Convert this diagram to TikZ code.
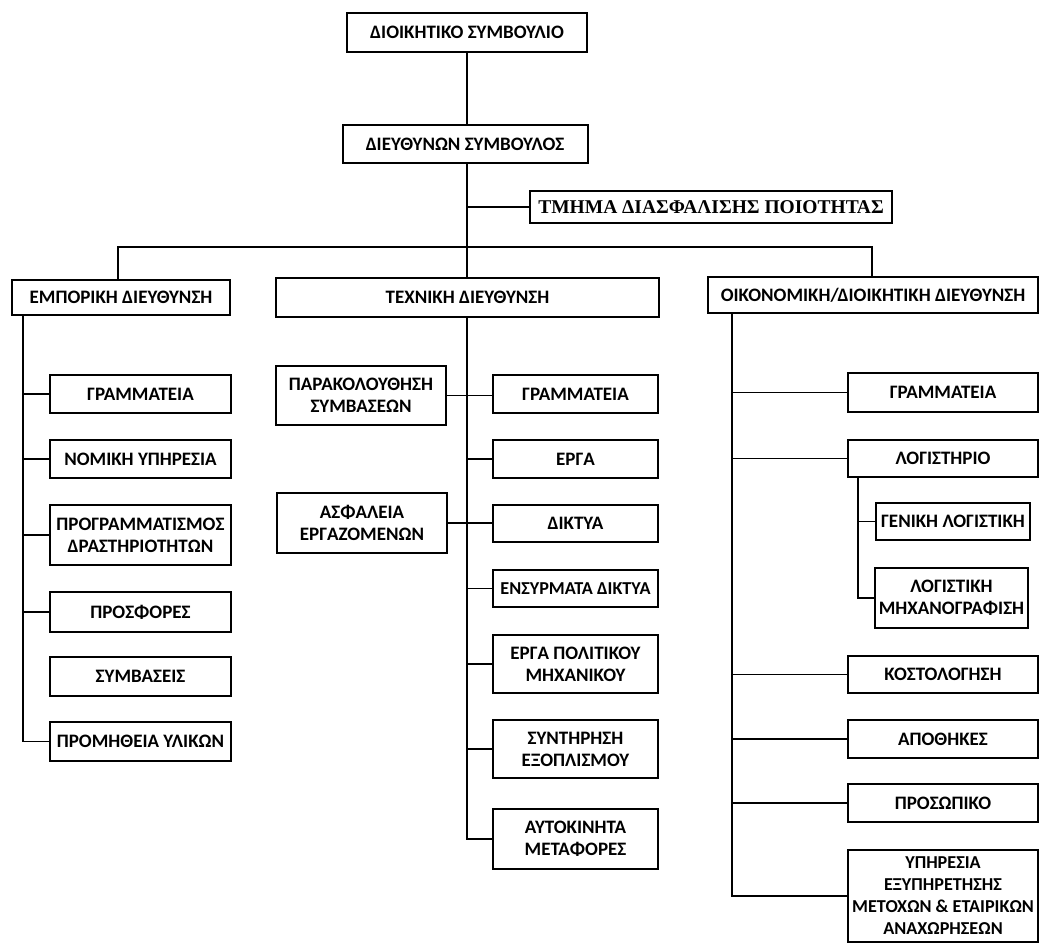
\documentclass[tikz,border=0pt]{standalone}
\usepackage{fontspec}
\setmainfont{Carlito}
\newfontfamily\qafont{Liberation Serif}
\begin{document}
\begin{tikzpicture}[x=1pt,y=-1pt,
  unit/.style={draw,line width=2pt,inner sep=1pt,align=center,
    font=\fontsize{19}{22}\selectfont\bfseries},
  tight/.style={font=\fontsize{18.2}{22}\selectfont\bfseries},
  link/.style={line width=1.9pt}]
\useasboundingbox[fill=white] (0,0) rectangle (1040,945);

% top management
\node[unit,minimum width=240,minimum height=39] (board) at (467,32.5) {ΔΙΟΙΚΗΤΙΚΟ ΣΥΜΒΟΥΛΙΟ};
\node[unit,minimum width=245,minimum height=38] (ceo) at (465,144) {ΔΙΕΥΘΥΝΩΝ ΣΥΜΒΟΥΛΟΣ};
\node[unit,minimum width=362,minimum height=32,font=\qafont\fontsize{19.5}{21}\selectfont\bfseries] (qa) at (711,207) {ΤΜΗΜΑ ΔΙΑΣΦΑΛΙΣΗΣ ΠΟΙΟΤΗΤΑΣ};

% directorates
\node[unit,minimum width=218,minimum height=35] (com) at (121,297.5) {ΕΜΠΟΡΙΚΗ ΔΙΕΥΘΥΝΣΗ};
\node[unit,minimum width=383,minimum height=39] (tech) at (467.5,297.5) {ΤΕΧΝΙΚΗ ΔΙΕΥΘΥΝΣΗ};
\node[unit,minimum width=330,minimum height=36] (fin) at (873,295) {ΟΙΚΟΝΟΜΙΚΗ/ΔΙΟΙΚΗΤΙΚΗ ΔΙΕΥΘΥΝΣΗ};

\coordinate (busL) at (118,247);
\coordinate (busR) at (872,247);
\coordinate (qaJ) at (467,207);

\draw[link] (board.south -| qaJ) -- (ceo.north -| qaJ);
\draw[link] (ceo.south -| qaJ) -- (tech.north -| qaJ);
\draw[link] (qaJ) -- (qa.west);
\draw[link] (com.north -| busL) -- (busL) -- (busR) -- (fin.north -| busR);

% commercial directorate
\begin{scope}[every node/.append style={minimum width=181}]
\node[unit,minimum height=38] (c1) at (140.5,394) {ΓΡΑΜΜΑΤΕΙΑ};
\node[unit,minimum height=38] (c2) at (140.5,459) {ΝΟΜΙΚΗ ΥΠΗΡΕΣΙΑ};
\node[unit,minimum height=60] (c3) at (140.5,535) {ΠΡΟΓΡΑΜΜΑΤΙΣΜΟΣ\\ΔΡΑΣΤΗΡΙΟΤΗΤΩΝ};
\node[unit,minimum height=40] (c4) at (140.5,612) {ΠΡΟΣΦΟΡΕΣ};
\node[unit,minimum height=39] (c5) at (140.5,676.5) {ΣΥΜΒΑΣΕΙΣ};
\node[unit,minimum height=39] (c6) at (140.5,741.5) {ΠΡΟΜΗΘΕΙΑ ΥΛΙΚΩΝ};
\end{scope}
\coordinate (comT) at (23,315);
\draw[link] (comT) -- (comT |- c6.west) -- (c6.west);
\foreach \n in {c1,c2,c3,c4}
  \draw[link] (comT |- \n.west) -- (\n.west);

% technical directorate
\node[unit,minimum width=170,minimum height=59] (tmon) at (361,395.5) {ΠΑΡΑΚΟΛΟΥΘΗΣΗ\\ΣΥΜΒΑΣΕΩΝ};
\node[unit,minimum width=170,minimum height=60] (tsaf) at (362,523) {ΑΣΦΑΛΕΙΑ\\ΕΡΓΑΖΟΜΕΝΩΝ};
\begin{scope}[every node/.append style={minimum width=165}]
\node[unit,minimum height=38] (t1) at (575.5,394) {ΓΡΑΜΜΑΤΕΙΑ};
\node[unit,minimum height=38] (t2) at (575.5,459) {ΕΡΓΑ};
\node[unit,minimum height=37] (t3) at (575.5,523.5) {ΔΙΚΤΥΑ};
\node[unit,tight,minimum height=37] (t4) at (575.5,588.5) {ΕΝΣΥΡΜΑΤΑ ΔΙΚΤΥΑ};
\node[unit,minimum height=58] (t5) at (575.5,664) {ΕΡΓΑ ΠΟΛΙΤΙΚΟΥ\\ΜΗΧΑΝΙΚΟΥ};
\node[unit,minimum height=58] (t6) at (575.5,749) {ΣΥΝΤΗΡΗΣΗ\\ΕΞΟΠΛΙΣΜΟΥ};
\node[unit,minimum height=60] (t7) at (575.5,839) {ΑΥΤΟΚΙΝΗΤΑ\\ΜΕΤΑΦΟΡΕΣ};
\end{scope}
\coordinate (techT) at (467,317);
\draw[link] (techT) -- (techT |- t7.west) -- (t7.west);
\foreach \n in {t2,t4,t5,t6}
  \draw[link] (techT |- \n.west) -- (\n.west);
\draw[link] (tmon.east) -- (tmon.east -| t1.west);
\draw[link] (tsaf.east) -- (tsaf.east -| t3.west);

% finance / administration directorate
\begin{scope}[every node/.append style={minimum width=190}]
\node[unit,minimum height=39] (f1) at (943,392.5) {ΓΡΑΜΜΑΤΕΙΑ};
\node[unit,minimum height=37] (f2) at (943,458.5) {ΛΟΓΙΣΤΗΡΙΟ};
\node[unit,minimum height=37] (f3) at (943,674.5) {ΚΟΣΤΟΛΟΓΗΣΗ};
\node[unit,minimum height=38] (f4) at (943,739) {ΑΠΟΘΗΚΕΣ};
\node[unit,minimum height=38] (f5) at (943,803) {ΠΡΟΣΩΠΙΚΟ};
\node[unit,tight,minimum height=92] (f6) at (943,896) {ΥΠΗΡΕΣΙΑ\\ΕΞΥΠΗΡΕΤΗΣΗΣ\\ΜΕΤΟΧΩΝ \& ΕΤΑΙΡΙΚΩΝ\\ΑΝΑΧΩΡΗΣΕΩΝ};
\end{scope}
\node[unit,minimum width=154,minimum height=37] (a1) at (953,521.5) {ΓΕΝΙΚΗ ΛΟΓΙΣΤΙΚΗ};
\node[unit,minimum width=153,minimum height=60] (a2) at (951.5,598) {ΛΟΓΙΣΤΙΚΗ\\ΜΗΧΑΝΟΓΡΑΦΙΣΗ};
\coordinate (finT) at (732,313);
\draw[link] (finT) -- (finT |- f6.west) -- (f6.west);
\foreach \n in {f1,f2,f3,f4,f5}
  \draw[link] (finT |- \n.west) -- (\n.west);
\coordinate (accT) at (858,477);
\draw[link] (accT) -- (accT |- a2.west) -- (a2.west);
\draw[link] (accT |- a1.west) -- (a1.west);
\end{tikzpicture}
\end{document}
